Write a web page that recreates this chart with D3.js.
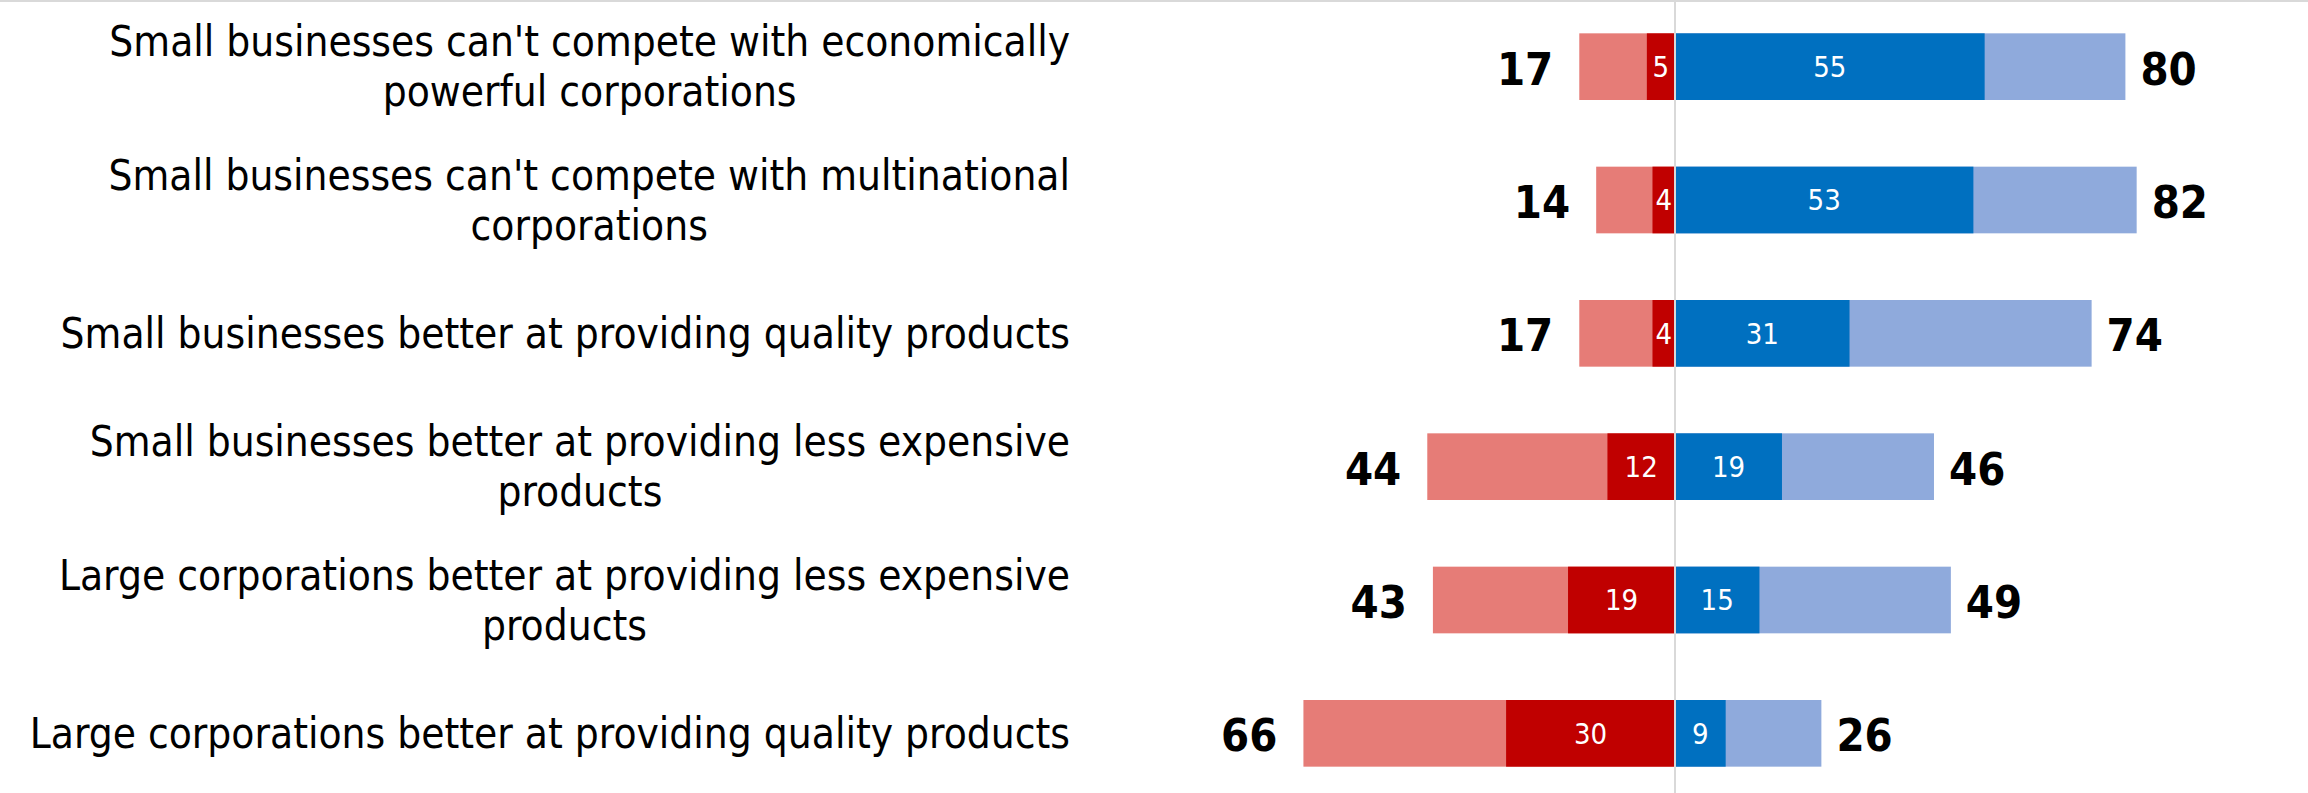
<!DOCTYPE html>
<html>
<head>
<meta charset="utf-8">
<script src="https://cdn.jsdelivr.net/npm/d3@7"></script>
<style>
  body { margin: 0; background: #fff; }
  svg text { font-family: "DejaVu Sans Condensed", "Liberation Sans Narrow", "DejaVu Sans", sans-serif; font-stretch: condensed; }
</style>
</head>
<body>
<svg id="chart"></svg>
<script>
var categories = [
  "Small businesses can't compete with economically powerful corporations",
  "Small businesses can't compete with multinational corporations",
  "Small businesses better at providing quality products",
  "Small businesses better at providing less expensive products",
  "Large corporations better at providing less expensive products",
  "Large corporations better at providing quality products"
];
var leftTotal   = [17, 14, 17, 44, 43, 66];
var leftStrong  = [5, 4, 4, 12, 19, 30];
var rightStrong = [55, 53, 31, 19, 15, 9];
var rightTotal  = [80, 82, 74, 46, 49, 26];

var width = 2308, height = 793;
var colors = { lightRed: "#e67c77", darkRed: "#c00000", darkBlue: "#0070c0", lightBlue: "#8faadc" };

var svg = d3.select("#chart")
    .attr("width", width)
    .attr("height", height);

var x = d3.scaleLinear().domain([-100, 100]).range([1112, 2238]);
var y = d3.scaleBand().domain(d3.range(categories.length)).range([0, 800])
    .paddingInner(0.5).paddingOuter(0.25);

var rows = svg.selectAll("g.row")
    .data(categories)
    .enter()
    .append("g")
    .attr("class", "row")
    .attr("transform", function (d, i) { return "translate(0," + y(i) + ")"; });

var bw = y.bandwidth();

rows.append("rect").attr("x", function (d, i) { return x(-leftTotal[i]); })
    .attr("width", function (d, i) { return x(0) - x(-leftTotal[i]); })
    .attr("height", bw).attr("fill", colors.lightRed);
rows.append("rect").attr("x", function (d, i) { return x(-leftStrong[i]); })
    .attr("width", function (d, i) { return x(0) - x(-leftStrong[i]); })
    .attr("height", bw).attr("fill", colors.darkRed);
rows.append("rect").attr("x", x(0))
    .attr("width", function (d, i) { return x(rightTotal[i]) - x(0); })
    .attr("height", bw).attr("fill", colors.lightBlue);
rows.append("rect").attr("x", x(0))
    .attr("width", function (d, i) { return x(rightStrong[i]) - x(0); })
    .attr("height", bw).attr("fill", colors.darkBlue);

// inner labels
rows.append("text")
    .attr("x", function (d, i) { return (x(-leftStrong[i]) + x(0)) / 2; })
    .attr("y", bw / 2).attr("dy", "0.36em")
    .attr("text-anchor", "middle").attr("fill", "#fff")
    .style("font-size", "29px")
    .text(function (d, i) { return leftStrong[i]; });
rows.append("text")
    .attr("x", function (d, i) { return (x(rightStrong[i]) + x(0)) / 2; })
    .attr("y", bw / 2).attr("dy", "0.36em")
    .attr("text-anchor", "middle").attr("fill", "#fff")
    .style("font-size", "29px")
    .text(function (d, i) { return rightStrong[i]; });

// totals
rows.append("text")
    .attr("x", function (d, i) { return x(-leftTotal[i]) - 26; })
    .attr("y", bw / 2).attr("dy", "0.4em")
    .attr("text-anchor", "end").attr("fill", "#000")
    .style("font-size", "45px").style("font-weight", "bold")
    .text(function (d, i) { return leftTotal[i]; });
rows.append("text")
    .attr("x", function (d, i) { return x(rightTotal[i]) + 15; })
    .attr("y", bw / 2).attr("dy", "0.4em")
    .attr("text-anchor", "start").attr("fill", "#000")
    .style("font-size", "45px").style("font-weight", "bold")
    .text(function (d, i) { return rightTotal[i]; });

// category labels: wrapped, lines centred inside a right-aligned block
var labelX = 1070, wrapWidth = 1055, lineH = 50;
rows.append("text")
    .attr("text-anchor", "middle")
    .style("font-size", "42px")
    .attr("fill", "#000")
    .each(function (d) {
      var t = d3.select(this), words = d.split(" "), lines = [], line = [];
      var probe = t.append("tspan");
      words.forEach(function (w) {
        line.push(w);
        probe.text(line.join(" "));
        if (probe.node().getComputedTextLength() > wrapWidth && line.length > 1) {
          line.pop(); lines.push(line.join(" ")); line = [w];
        }
      });
      lines.push(line.join(" "));
      var maxW = 0;
      lines.forEach(function (l) {
        probe.text(l);
        maxW = Math.max(maxW, probe.node().getComputedTextLength());
      });
      probe.remove();
      var cx = labelX - maxW / 2;
      var y0 = bw / 2 - (lines.length - 1) * lineH / 2;
      lines.forEach(function (l, k) {
        t.append("tspan").attr("x", cx).attr("y", y0 + k * lineH)
          .attr("dy", "0.35em").text(l);
      });
    });

// center line and top rule
svg.append("line").attr("x1", x(0)).attr("x2", x(0)).attr("y1", 0).attr("y2", height)
    .attr("stroke", "#d9d9d9").attr("stroke-width", 2);
svg.append("line").attr("x1", 0).attr("x2", width).attr("y1", 1).attr("y2", 1)
    .attr("stroke", "#d9d9d9").attr("stroke-width", 2);
</script>
</body>
</html>
